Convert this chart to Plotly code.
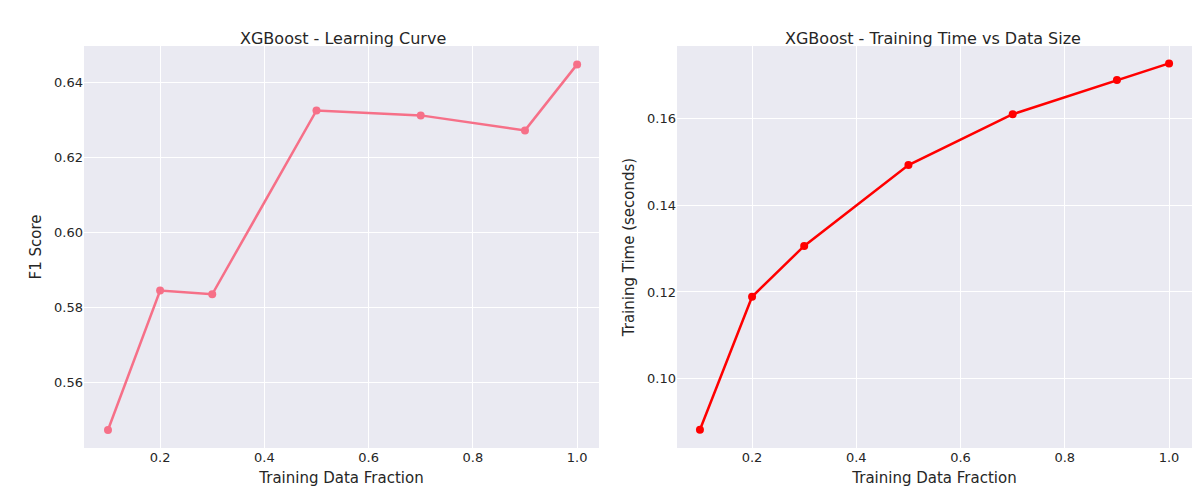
import plotly.graph_objects as go
from plotly.subplots import make_subplots

fractions = [0.1, 0.2, 0.3, 0.5, 0.7, 0.9, 1.0]
f1_scores = [0.5472, 0.5844, 0.5834, 0.6324, 0.6311, 0.6271, 0.6447]
train_times = [0.0883, 0.1189, 0.1306, 0.1492, 0.1609, 0.1688, 0.1726]

fig = make_subplots(rows=1, cols=2, horizontal_spacing=0.065,
                    subplot_titles=("XGBoost - Learning Curve", "XGBoost - Training Time vs Data Size"))

fig.add_trace(go.Scatter(x=fractions, y=f1_scores, mode="lines+markers",
                         line=dict(color="#f67088", width=2.5), marker=dict(size=8)), 1, 1)
fig.add_trace(go.Scatter(x=fractions, y=train_times, mode="lines+markers",
                         line=dict(color="#ff0000", width=2.5), marker=dict(size=8)), 1, 2)

ax = dict(showgrid=True, gridcolor="white", zeroline=False, showline=False,
          ticks="", tickfont=dict(size=13, color="#262626"))
fig.update_xaxes(**ax, range=[0.054, 1.042], tickvals=[0.2, 0.4, 0.6, 0.8, 1.0], tickformat=".1f",
                 title=dict(text="Training Data Fraction", font=dict(size=15, color="#262626"), standoff=8))
fig.update_xaxes(domain=[0.0, 0.4648], row=1, col=1)
fig.update_xaxes(domain=[0.5352, 1.0], range=[0.056, 1.044], row=1, col=2)
fig.update_yaxes(**ax)
fig.update_yaxes(range=[0.5424, 0.6496], dtick=0.02, tickformat=".2f", row=1, col=1,
                 title=dict(text="F1 Score", font=dict(size=15, color="#262626"), standoff=8))
fig.update_yaxes(range=[0.0841, 0.1766], dtick=0.02, tickformat=".2f", row=1, col=2,
                 title=dict(text="Training Time (seconds)", font=dict(size=15, color="#262626"), standoff=8))

for a in fig.layout.annotations:
    a.font = dict(size=16, color="#262626")
    a.yshift = -4

fig.update_layout(width=1200, height=500, showlegend=False,
                  plot_bgcolor="#eaeaf2", paper_bgcolor="white",
                  font=dict(family="DejaVu Sans", color="#262626"),
                  margin=dict(l=76, r=16, t=38, b=60, autoexpand=False))
fig.write_html("out.html")
